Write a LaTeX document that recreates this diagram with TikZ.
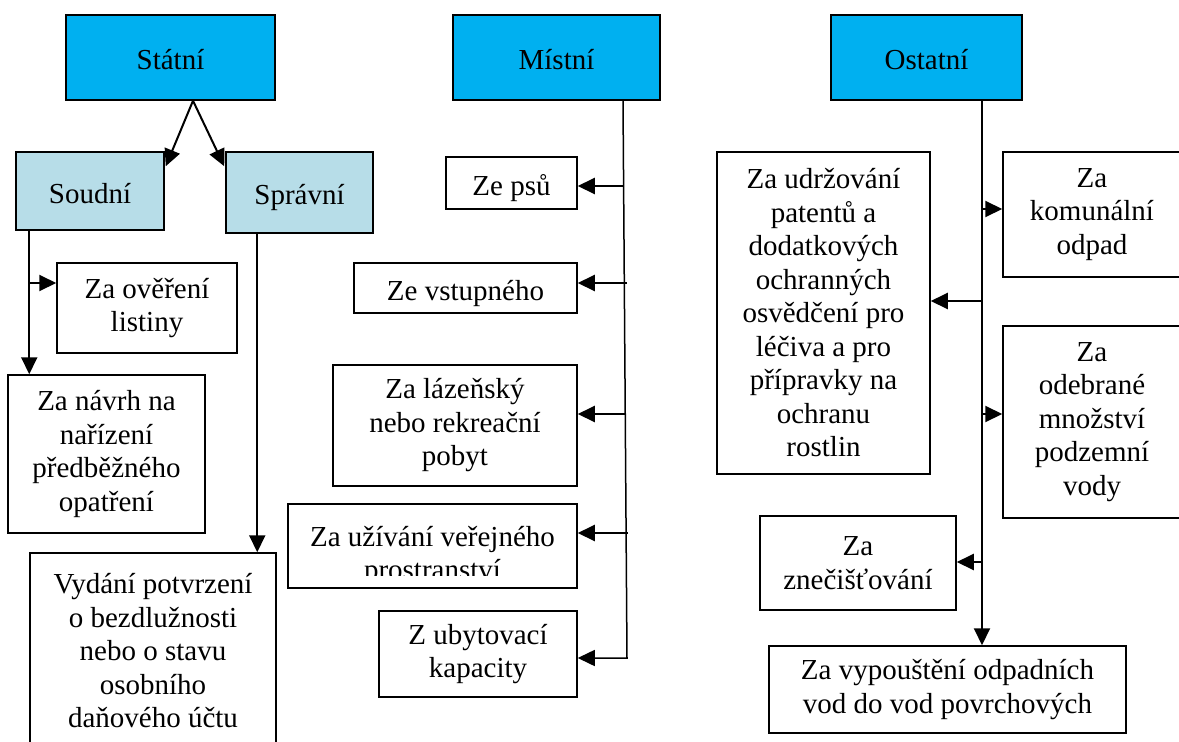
\documentclass[tikz,border=0pt]{standalone}
\usepackage{fontspec}
\setmainfont{Liberation Serif}
\usetikzlibrary{arrows.meta,calc}
\definecolor{topblue}{HTML}{00B0F0}
\definecolor{subblue}{HTML}{B7DDE8}
\begin{document}
\begin{tikzpicture}[x=1pt,y=-1pt,
  box/.style={draw=black, line width=1.5pt, inner sep=0pt, align=center, font=\fontsize{29}{33.5}\selectfont},
  single/.style={text height=30pt, text depth=6pt},
  topbox/.style={box, single, fill=topblue},
  subbox/.style={box, single, fill=subblue},
  txt/.style={inner sep=0pt, align=center, font=\fontsize{29}{33.5}\selectfont},
  arr/.style={line width=2pt, -{Triangle[length=17pt,width=16pt]}},
  thinarr/.style={line width=1.5pt, -{Triangle[length=17pt,width=16pt]}}]
\useasboundingbox (0,0) rectangle (1179,742);

% top level
\node[topbox, minimum width=209pt, minimum height=85pt] (statni) at (170.5,57.5) {Státní};
\node[topbox, minimum width=207pt, minimum height=85pt] (mistni) at (556.5,57.5) {Místní};
\node[topbox, minimum width=191pt, minimum height=85pt] (ostatni) at (926.5,57.5) {Ostatní};

% Statni branch
\node[subbox, minimum width=148pt, minimum height=78pt] (soudni) at (90,191) {Soudní};
\node[subbox, minimum width=147pt, minimum height=81pt] (spravni) at (299.5,192.5) {Správní};
\node[box, minimum width=180pt, minimum height=90pt] (overeni) at (147,308) {Za ověření\\listiny};
\node[box, minimum width=197pt, minimum height=158pt] (navrh) at (106.5,454) {Za návrh na\\nařízení\\předběžného\\opatření};
\node[box, minimum width=246pt, minimum height=196pt] (vydani) at (153,651) {Vydání potvrzení\\o bezdlužnosti\\nebo o stavu\\osobního\\daňového účtu};

% Mistni branch
\node[box, single, minimum width=131pt, minimum height=52pt] (psu) at (511.5,183) {Ze psů};
\node[box, single, minimum width=223pt, minimum height=50pt] (vstupneho) at (465.5,288) {Ze vstupného};
\node[box, minimum width=244pt, minimum height=121pt] (lazensky) at (455,425.5) {Za lázeňský\\nebo rekreační\\pobyt};
\node[box, minimum width=289pt, minimum height=84pt] (uzivani) at (432.5,546) {};
\begin{scope}
  \clip (288,504) rectangle (577,575);
  \node[txt, anchor=north] (uzivanitext) at (432.5,526) {Za užívání veřejného\\prostranství};
\end{scope}
\node[box, minimum width=198pt, minimum height=86pt] (ubytovaci) at (478,654) {Z ubytovací\\kapacity};

% Ostatni branch
\node[box, minimum width=213pt, minimum height=322pt] (udrzovani) at (823.5,313) {Za udržování\\patentů a\\dodatkových\\ochranných\\osvědčení pro\\léčiva a pro\\přípravky na\\ochranu\\rostlin};
\node[box, minimum width=178pt, minimum height=125pt] (komunalni) at (1092,214.5) {Za\\komunální\\odpad};
\node[box, minimum width=178pt, minimum height=192pt] (odebrane) at (1092,422) {Za\\odebrané\\množství\\podzemní\\vody};
\node[box, minimum width=196pt, minimum height=94pt] (znecistovani) at (858,563) {Za\\znečišťování};
\node[box, minimum width=357pt, minimum height=87pt] (vypousteni) at (947.5,689.5) {Za vypouštění odpadních\\vod do vod povrchových};

% Statni connectors
\coordinate (sapex) at ([xshift=22.5pt]statni.south);
\draw[arr] (sapex) -- ([shift={(1pt,-15pt)}]soudni.north east);
\draw[arr] (sapex) -- ([shift={(-1pt,-15pt)}]spravni.north west);

\coordinate (st) at ([xshift=14pt]soudni.south west);
\coordinate (sb) at (30,283);
\draw[arr] (st) -- (st |- navrh.north);
\draw[arr] (sb) -- (sb -| overeni.west);

\coordinate (pt) at ([xshift=32pt]spravni.south west);
\draw[arr] (pt) -- (pt |- vydani.north);

% Mistni connectors
\coordinate (mt) at ([xshift=66.5pt]mistni.south);
\coordinate (mb) at (627,658);
\draw[thinarr] (mt) -- (mb) -- (mb -| ubytovaci.east);
\coordinate (m1) at (623.6,186);
\coordinate (m2) at (627,283);
\coordinate (m3) at (625.3,414);
\coordinate (m4) at (628,533);
\draw[arr] (m1) -- (m1 -| psu.east);
\draw[arr] (m2) -- (m2 -| vstupneho.east);
\draw[arr] (m3) -- (m3 -| lazensky.east);
\draw[arr] (m4) -- (m4 -| uzivani.east);

% Ostatni connectors
\coordinate (ot) at ([xshift=55.5pt]ostatni.south);
\draw[arr] (ot) -- (ot |- vypousteni.north);
\coordinate (o1) at (982,209);
\coordinate (o2) at (982,301);
\coordinate (o3) at (982,414);
\coordinate (o4) at (982,562);
\draw[arr] (o1) -- (o1 -| komunalni.west);
\draw[arr] (o2) -- (o2 -| udrzovani.east);
\draw[arr] (o3) -- (o3 -| odebrane.west);
\draw[arr] (o4) -- (o4 -| znecistovani.east);
\end{tikzpicture}
\end{document}
